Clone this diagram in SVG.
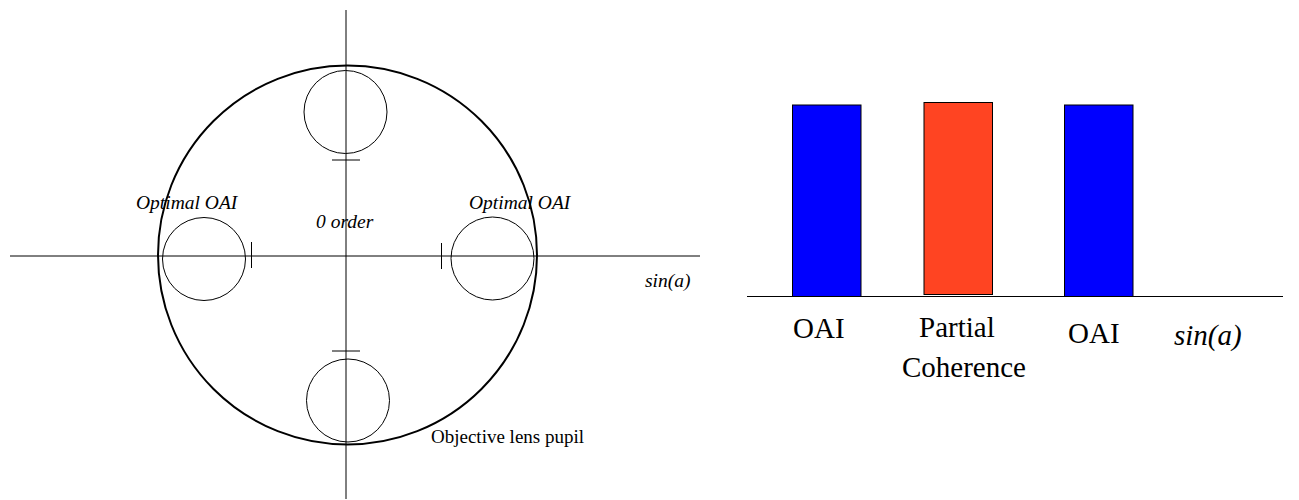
<svg xmlns="http://www.w3.org/2000/svg" width="1299" height="500" viewBox="0 0 1299 500">
<style>
.ln{stroke:#000;stroke-width:1;fill:none}
.sc{stroke:#000;stroke-width:1;fill:none}
.big{stroke:#000;stroke-width:2;fill:none}
text{font-family:"Liberation Serif","Times New Roman",serif;fill:#000}
.it{font-style:italic;font-size:19.5px}
.rm{font-size:19px}
.lb{font-size:29px}
.bar{stroke:#000;stroke-width:1}
</style>
<rect width="1299" height="500" fill="#fff"/>
<g id="connectors">
<line class="ln" x1="346" y1="10" x2="346" y2="499"/>
<line class="ln" x1="10" y1="256" x2="700" y2="256"/>
<line class="ln" x1="332" y1="160" x2="360" y2="160"/>
<line class="ln" x1="332" y1="351" x2="360" y2="351"/>
<line class="ln" x1="251.5" y1="242" x2="251.5" y2="268"/>
<line class="ln" x1="441.5" y1="243" x2="441.5" y2="269"/>
<line class="ln" x1="747" y1="296.5" x2="1283" y2="296.5"/>
</g>
<g id="pupil">
<circle class="big" cx="347.5" cy="255" r="189.5"/>
<text class="rm" x="431" y="443" font-family="Liberation Serif, serif">Objective lens pupil</text>
</g>
<g id="order-top"><circle class="sc" cx="345.5" cy="112" r="41.5"/></g>
<g id="order-bottom"><circle class="sc" cx="348" cy="400.5" r="41.5"/></g>
<g id="order-left"><circle class="sc" cx="204" cy="259" r="41.5"/>
<text class="it" x="136" y="209" font-family="Liberation Serif, serif">Optimal OAI</text></g>
<g id="order-right"><circle class="sc" cx="492.5" cy="258.5" r="41.5"/>
<text class="it" x="469" y="209" font-family="Liberation Serif, serif">Optimal OAI</text></g>
<g id="zero-order"><text class="it" x="316" y="228" font-family="Liberation Serif, serif">0 order</text></g>
<g id="axis-label-left"><text class="it" x="645" y="287" font-family="Liberation Serif, serif">sin(a)</text></g>
<g id="bar-oai-left">
<rect class="bar" x="792.5" y="105" width="68.5" height="191.5" fill="#0000ff"/>
<text class="lb" x="793" y="338" font-family="Liberation Serif, serif">OAI</text>
</g>
<g id="bar-partial">
<rect class="bar" x="924" y="102.5" width="68.5" height="192" fill="#ff4422"/>
<text class="lb" x="919" y="337" font-family="Liberation Serif, serif">Partial</text>
<text class="lb" x="902" y="377" font-family="Liberation Serif, serif">Coherence</text>
</g>
<g id="bar-oai-right">
<rect class="bar" x="1064.5" y="105" width="68.5" height="191.5" fill="#0000ff"/>
<text class="lb" x="1068" y="343" font-family="Liberation Serif, serif">OAI</text>
</g>
<g id="axis-label-right"><text class="lb" x="1174" y="345" font-style="italic" font-family="Liberation Serif, serif">sin(a)</text></g>
</svg>
